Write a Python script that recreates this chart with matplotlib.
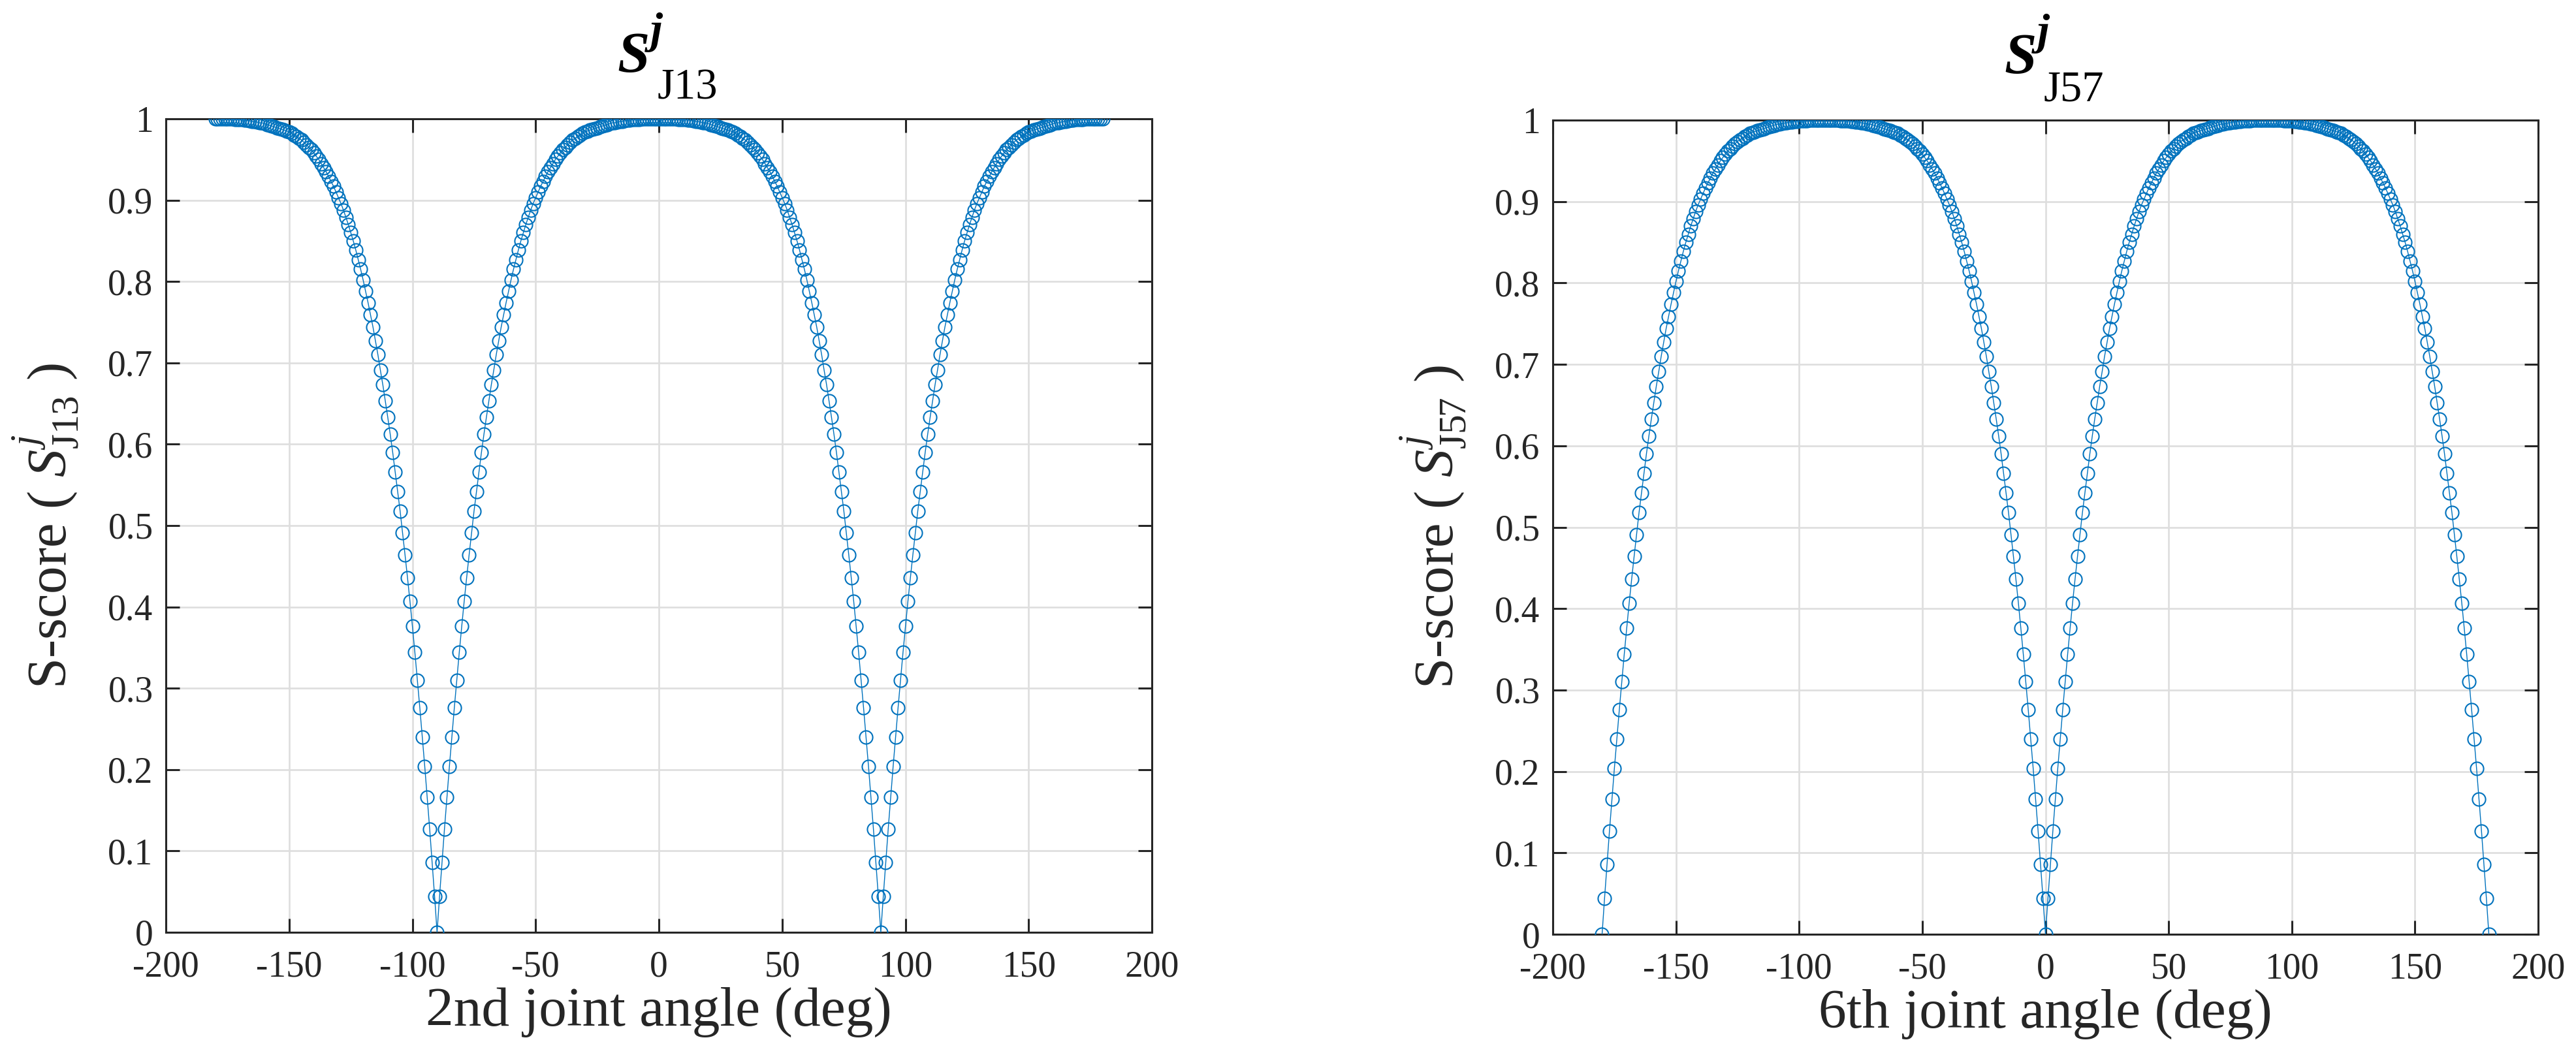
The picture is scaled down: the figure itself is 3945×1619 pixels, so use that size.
import numpy as np
import matplotlib
matplotlib.use("Agg")
import matplotlib.pyplot as plt

# S-score, as a function of distance (deg) from the nearest zero, 0..90
s_profile = [
    0.000, 0.044, 0.086, 0.127, 0.166, 0.204, 0.240, 0.276, 0.310, 0.344,
    0.376, 0.407, 0.436, 0.464, 0.491, 0.518, 0.542, 0.566, 0.590, 0.612,
    0.633, 0.653, 0.673, 0.691, 0.710, 0.727, 0.744, 0.759, 0.774, 0.788,
    0.802, 0.815, 0.827, 0.839, 0.850, 0.860, 0.870, 0.879, 0.888, 0.896,
    0.903, 0.910, 0.917, 0.923, 0.929, 0.935, 0.940, 0.945, 0.950, 0.954,
    0.958, 0.962, 0.965, 0.968, 0.971, 0.974, 0.976, 0.978, 0.980, 0.982,
    0.984, 0.985, 0.986, 0.987, 0.988, 0.989, 0.990, 0.991, 0.992, 0.993,
    0.994, 0.995, 0.995, 0.996, 0.9965, 0.997, 0.9975, 0.998, 0.9984, 0.9988,
    0.999, 0.9992, 0.9994, 0.9996, 0.9997, 0.9998, 0.9999, 1.000, 1.000, 1.000,
    1.000,
]
angles = np.arange(-180, 181)  # 1 deg steps, as in the figure
s_profile = np.array(s_profile)

# left: zeros at +-90 deg, right: zeros at 0 and +-180 deg
dist_j13 = np.abs(np.abs(angles) - 90)
dist_j57 = 90 - np.abs(np.abs(angles) - 90)
s_j13 = s_profile[dist_j13]
s_j57 = s_profile[dist_j57]

xticks = [-200, -150, -100, -50, 0, 50, 100, 150, 200]
yticks = [0, 0.1, 0.2, 0.3, 0.4, 0.5, 0.6, 0.7, 0.8, 0.9, 1]
ytick_labels = ["0", "0.1", "0.2", "0.3", "0.4", "0.5", "0.6", "0.7", "0.8", "0.9", "1"]

plt.rcParams["font.family"] = ["Liberation Serif", "DejaVu Serif"]
plt.rcParams["mathtext.fontset"] = "custom"
plt.rcParams["mathtext.rm"] = "Liberation Serif"
plt.rcParams["mathtext.it"] = "Liberation Serif:italic"
plt.rcParams["mathtext.bf"] = "Liberation Serif:bold"
plt.rcParams["mathtext.bfit"] = "Liberation Serif:bold:italic"

blue = "#0072BD"
dark = "#262626"

fig = plt.figure(figsize=(39.45, 16.19), dpi=100)
ax1 = fig.add_axes([0.0644, 0.118, 0.3828, 0.7696])
ax2 = fig.add_axes([0.6028, 0.1161, 0.3825, 0.7702])


def style(ax, y, sub, xlabel):
    ax.plot(angles, y, "-o", color=blue, lw=1.0, ms=14.5, mew=1.5,
            mfc="none", zorder=3)
    ax.set_xlim(-200, 200)
    ax.set_ylim(0, 1)
    ax.set_xticks(xticks)
    ax.set_xticklabels([str(t) for t in xticks])
    ax.set_yticks(yticks)
    ax.set_yticklabels(ytick_labels)
    ax.grid(True, color="#dedede", lw=1.9)
    ax.set_axisbelow(True)
    for sp in ax.spines.values():
        sp.set_color(dark)
        sp.set_linewidth(2.2)
    ax.tick_params(direction="in", length=15, width=2.2, colors=dark,
                   labelsize=40, top=True, right=True)
    ax.tick_params(axis="x", pad=20)
    ax.tick_params(axis="y", pad=14)

    ax.set_xlabel(xlabel, fontsize=61.5, color=dark)
    ax.xaxis.set_label_coords(0.5, -0.0674)
    ax.set_ylabel("S-score ( $S^{j}_{\\mathrm{%s}}$ )" % sub, fontsize=61,
                  color=dark)
    ax.yaxis.set_label_coords(-0.086, 0.5)

    # title: bold italic S with superscript j and subscript
    kw = dict(xy=(0.5, 1.0), xycoords="axes fraction",
              textcoords="offset pixels", color="black", va="baseline")
    ax.annotate("S", xytext=(-14, 72), ha="right", fontsize=64,
                fontweight="bold", fontstyle="italic", **kw)
    ax.annotate("j", xytext=(-13, 116), ha="left", fontsize=49,
                fontweight="bold", fontstyle="italic", **kw)
    ax.annotate(sub, xytext=(-3, 30), ha="left", fontsize=48, **kw)


style(ax1, s_j13, "J13", "2nd joint angle (deg)")
style(ax2, s_j57, "J57", "6th joint angle (deg)")

fig.savefig("out.png", dpi=100, facecolor="white")
